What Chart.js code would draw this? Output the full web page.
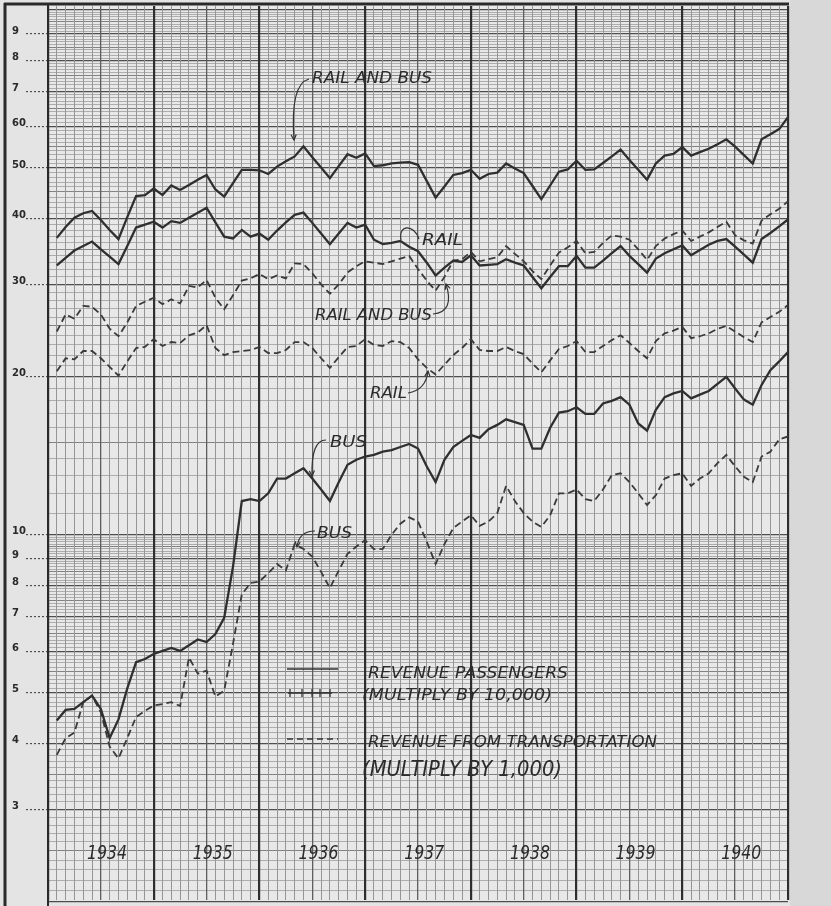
<!DOCTYPE html>
<html><head><meta charset="utf-8">
<script src="https://cdn.jsdelivr.net/npm/chart.js@4.4.0/dist/chart.umd.min.js"></script>
<style>html,body{margin:0;padding:0;background:#e3e3e3;}canvas{display:block;}</style>
</head><body>
<canvas id="c" width="831" height="906"></canvas>
<script>
// ---- categories ----
const years = ['1934','1935','1936','1937','1938','1939','1940'];
const monthsPerYear = 12;

// ---- series (monthly, Jan 1934 .. Dec 1940) ----
// Revenue passengers (multiply by 10,000)
const railAndBusPassengers = [36.8,38.6,40.2,41.0,41.4,39.8,38.1,36.6,40.3,44.2,
  44.4,45.7,44.4,46.3,45.4,46.4,47.5,48.5,45.5,44.1,
  46.8,49.6,49.6,49.5,48.7,50.3,51.5,52.6,55.0,52.4,
  50.1,47.8,50.4,53.1,52.3,53.3,50.4,50.6,51.0,51.2,
  51.3,50.7,47.2,43.9,46.1,48.5,48.9,49.6,47.7,48.7,
  49.0,51.0,49.9,48.9,46.2,43.6,46.3,49.2,49.7,51.6,
  49.6,49.7,51.1,52.6,54.2,51.8,49.6,47.5,51.0,52.8,
  53.2,54.8,52.8,53.6,54.4,55.5,56.7,54.9,52.9,51.0,
  56.7,58.0,59.3,62.5];
const railPassengers = [32.6,33.7,34.8,35.5,36.2,35.0,33.9,32.8,35.5,38.5,
  39.0,39.5,38.5,39.6,39.3,40.2,41.1,42.0,39.4,37.0,
  36.7,38.1,37.0,37.5,36.5,38.0,39.4,40.7,41.1,39.3,
  37.5,35.8,37.5,39.3,38.5,39.0,36.5,35.8,36.0,36.3,
  35.4,34.7,33.0,31.2,32.3,33.3,33.1,34.1,32.6,32.7,
  32.8,33.5,33.0,32.6,31.0,29.5,31.0,32.5,32.5,34.0,
  32.3,32.3,33.3,34.4,35.5,34.0,32.8,31.6,33.6,34.4,
  35.0,35.6,34.1,34.9,35.7,36.3,36.6,35.4,34.2,33.0,
  36.6,37.6,38.7,39.9];
const busPassengers = [4.43,4.64,4.66,4.80,4.94,4.66,4.10,4.45,5.10,5.72,
  5.80,5.93,6.01,6.09,6.01,6.16,6.32,6.25,6.47,6.95,
  8.70,11.6,11.7,11.6,12.0,12.8,12.8,13.1,13.4,12.8,
  12.2,11.6,12.6,13.6,13.9,14.1,14.2,14.4,14.5,14.7,
  14.9,14.6,13.5,12.6,13.9,14.7,15.1,15.5,15.3,15.9,
  16.2,16.6,16.4,16.2,14.6,14.6,16.0,17.1,17.2,17.5,
  17.0,17.0,17.8,18.0,18.3,17.7,16.3,15.8,17.3,18.3,
  18.6,18.8,18.2,18.5,18.8,19.4,20.0,19.0,18.1,17.7,
  19.3,20.6,21.4,22.3];
// Revenue from transportation (multiply by 1,000)
const railAndBusRevenue = [24.4,26.3,25.8,27.3,27.2,26.3,24.7,23.9,25.4,27.3,
  27.8,28.3,27.5,28.1,27.6,29.8,29.6,30.6,28.3,26.9,
  28.6,30.5,30.8,31.4,30.7,31.2,30.8,32.9,32.8,31.5,
  30.0,28.8,30.0,31.6,32.5,33.2,33.0,32.8,33.2,33.6,
  34.0,32.1,30.5,29.2,31.0,33.3,33.5,34.6,33.2,33.5,
  33.8,35.5,34.3,33.2,31.8,30.7,32.6,34.5,35.3,36.3,
  34.4,34.6,36.0,37.2,37.0,36.5,35.0,33.4,35.5,36.7,
  37.4,38.0,36.3,37.0,37.7,38.6,39.5,37.2,36.4,35.9,
  39.7,40.8,41.8,43.2];
const railRevenue = [20.5,21.7,21.6,22.4,22.4,21.7,20.9,20.1,21.4,22.7,
  22.8,23.6,22.9,23.3,23.2,24.0,24.3,25.1,22.7,22.0,
  22.3,22.4,22.5,22.8,22.2,22.2,22.5,23.3,23.3,22.7,
  21.7,20.8,21.8,22.8,22.9,23.6,23.0,22.9,23.4,23.3,
  22.7,21.6,20.8,20.2,21.1,22.0,22.7,23.6,22.5,22.4,
  22.4,22.8,22.4,22.1,21.2,20.4,21.5,22.6,22.9,23.4,
  22.3,22.3,22.9,23.5,24.0,23.2,22.4,21.7,23.4,24.2,
  24.5,24.9,23.7,23.9,24.2,24.7,25.0,24.4,23.8,23.3,
  25.4,26.0,26.6,27.4];
const busRevenue = [3.81,4.10,4.20,4.80,4.94,4.59,3.95,3.75,4.10,4.50,
  4.62,4.73,4.76,4.80,4.72,5.84,5.44,5.51,4.92,5.05,
  6.20,7.70,8.10,8.15,8.45,8.80,8.55,9.60,9.40,9.09,
  8.50,7.92,8.55,9.20,9.50,9.77,9.39,9.40,10.0,10.5,
  10.8,10.6,9.70,8.80,9.60,10.3,10.6,10.9,10.4,10.6,
  11.0,12.4,11.6,11.0,10.6,10.35,10.9,12.0,12.0,12.2,
  11.7,11.6,12.2,13.0,13.1,12.6,12.0,11.4,11.9,12.8,
  13.0,13.1,12.4,12.8,13.1,13.7,14.2,13.5,12.9,12.6,
  14.1,14.4,15.2,15.4];

// ---- tick labels ----
const yLabelValues = [3,4,5,6,7,8,9,10,20,30,40,50,60,70,80,90];
const yLabelTexts  = ['3','4','5','6','7','8','9','10','20','30','40','50','60','7','8','9'];

// ---- build ----
const nMonths = years.length * monthsPerYear;
const toPoints = arr => arr.map((v, i) => ({x: i + 1, y: v}));
const labelMap = new Map(yLabelValues.map((v, i) => [v, yLabelTexts[i]]));

// graph-paper rulings (log paper: 0.1 steps in lower cycle, 1 steps in upper cycle)
const gridVals = [];
for (let k = 20; k < 100; k++) gridVals.push(k / 10);
for (let k = 10; k <= 100; k++) gridVals.push(k);

const yMin = Math.pow(10, 1 - (906 - 538) / 529);
const yMax = Math.pow(10, 2 + 4 / 529);

function ds(label, data, dashed) {
  return {
    label, data: toPoints(data),
    borderColor: dashed ? '#3a3a3a' : '#2f2f2f',
    borderWidth: dashed ? 1.8 : 2.3,
    borderDash: dashed ? [7, 4] : [],
    pointRadius: 0, tension: 0, fill: false
  };
}

function fitText(ctx, text, x, base, width, capH) {
  const size = capH / 0.73;
  ctx.font = `italic ${size}px "DejaVu Sans"`;
  const w = ctx.measureText(text).width;
  ctx.save();
  ctx.translate(x, base);
  ctx.scale(width / w, 1);
  ctx.textAlign = 'left';
  ctx.textBaseline = 'alphabetic';
  ctx.fillText(text, 0, 0);
  ctx.restore();
}
function leader(ctx, x0, y0, cx, cy, x1, y1) {
  ctx.beginPath();
  ctx.moveTo(x0, y0);
  ctx.quadraticCurveTo(cx, cy, x1, y1);
  ctx.stroke();
  const ang = Math.atan2(y1 - cy, x1 - cx);
  const L = 6;
  ctx.beginPath();
  ctx.moveTo(x1 - L * Math.cos(ang - 0.45), y1 - L * Math.sin(ang - 0.45));
  ctx.lineTo(x1, y1);
  ctx.lineTo(x1 - L * Math.cos(ang + 0.45), y1 - L * Math.sin(ang + 0.45));
  ctx.stroke();
}

const paper = {
  id: 'paper',
  beforeDraw(chart) {
    const {ctx, chartArea: a} = chart;
    ctx.save();
    ctx.fillStyle = '#e4e4e4';
    ctx.fillRect(0, 0, chart.width, chart.height);
    ctx.fillStyle = '#e8e8e8';
    ctx.fillRect(a.left, a.top, a.right - a.left, a.bottom - a.top);
    ctx.fillStyle = '#d8d8d8';
    ctx.fillRect(a.right + 2, 0, chart.width - a.right - 2, chart.height);
    ctx.restore();
  },
  afterDraw(chart) {
    const {ctx, chartArea: a, scales} = chart;
    const xs = scales.x;
    ctx.save();
    ctx.strokeStyle = '#2a2a2a';
    ctx.lineWidth = 3;
    ctx.beginPath(); ctx.moveTo(5, 3); ctx.lineTo(5, chart.height); ctx.stroke();
    ctx.beginPath(); ctx.moveTo(4, 4); ctx.lineTo(a.right + 1, 4); ctx.stroke();
    ctx.lineWidth = 2;
    ctx.beginPath(); ctx.moveTo(a.left, 4); ctx.lineTo(a.left, chart.height); ctx.stroke();

    ctx.fillStyle = '#2b2b2b';
    ctx.strokeStyle = '#333';
    ctx.lineWidth = 1.2;
    // year labels
    years.forEach((y, i) => {
      const cx = xs.getPixelForValue(i * 12 + 6.7);
      fitText(ctx, y, cx - 20, 859, 40, 14);
    });
    // series annotations
    fitText(ctx, 'RAIL AND BUS', 312, 83, 120, 11);
    leader(ctx, 309, 79, 290, 84, 294, 140);
    fitText(ctx, 'RAIL', 422, 245, 41, 12);
    ctx.beginPath(); ctx.moveTo(401, 240); ctx.bezierCurveTo(398, 224, 414, 224, 419, 239); ctx.stroke();
    fitText(ctx, 'RAIL AND BUS', 315, 320, 117, 12);
    leader(ctx, 433, 314, 455, 312, 446, 284);
    fitText(ctx, 'RAIL', 370, 398, 37, 11);
    leader(ctx, 408, 393, 426, 390, 428, 371);
    fitText(ctx, 'BUS', 330, 447, 37, 12);
    leader(ctx, 326, 440, 311, 440, 312, 476);
    fitText(ctx, 'BUS', 317, 538, 35, 11);
    leader(ctx, 315, 531, 299, 531, 297, 547);

    // legend
    ctx.lineWidth = 1.3;
    ctx.beginPath(); ctx.moveTo(287, 669); ctx.lineTo(338, 669); ctx.stroke();
    ctx.beginPath(); ctx.moveTo(288, 693); ctx.lineTo(332, 693); ctx.stroke();
    [290, 302, 312, 320, 330].forEach(x => {
      ctx.beginPath(); ctx.moveTo(x, 689); ctx.lineTo(x, 697); ctx.stroke();
    });
    ctx.setLineDash([6, 4]);
    ctx.beginPath(); ctx.moveTo(287, 739); ctx.lineTo(338, 739); ctx.stroke();
    ctx.setLineDash([]);
    fitText(ctx, 'REVENUE PASSENGERS', 368, 678, 200, 12);
    fitText(ctx, '(MULTIPLY BY 10,000)', 362, 700, 190, 12);
    fitText(ctx, 'REVENUE FROM TRANSPORTATION', 368, 747, 289, 12);
    fitText(ctx, '(MULTIPLY BY 1,000)', 362, 776, 200, 15);
    ctx.restore();
  }
};

new Chart(document.getElementById('c').getContext('2d'), {
  type: 'line',
  data: {
    datasets: [
      ds('Rail and Bus - Revenue passengers', railAndBusPassengers, false),
      ds('Rail - Revenue passengers', railPassengers, false),
      ds('Bus - Revenue passengers', busPassengers, false),
      ds('Rail and Bus - Revenue from transportation', railAndBusRevenue, true),
      ds('Rail - Revenue from transportation', railRevenue, true),
      ds('Bus - Revenue from transportation', busRevenue, true)
    ]
  },
  options: {
    responsive: false,
    animation: false,
    layout: {padding: {left: 12, right: 43, top: 5, bottom: 0}},
    plugins: {legend: {display: false}, tooltip: {enabled: false}},
    scales: {
      x: {
        type: 'linear', min: 0, max: nMonths, bounds: 'data',
        afterBuildTicks: s => { s.ticks = Array.from({length: nMonths + 1}, (_, i) => ({value: i})); },
        afterFit: s => { s.height = 0; },
        ticks: {display: false},
        border: {display: false},
        grid: {
          z: 0,
          drawTicks: false,
          color: c => { const v = c.tick.value; return v % 12 === 0 ? '#2e2e2e' : (v % 6 === 0 ? '#5e5e5e' : '#959595'); },
          lineWidth: c => { const v = c.tick.value; return v % 12 === 0 ? 2.2 : (v % 6 === 0 ? 1.3 : 1); }
        }
      },
      y: {
        type: 'logarithmic', min: yMin, max: yMax, bounds: 'data',
        afterBuildTicks: s => { s.ticks = gridVals.map(v => ({value: v})); },
        afterFit: s => { s.width = 36; },
        border: {display: false},
        ticks: {
          autoSkip: false, crossAlign: 'far', labelOffset: -3, padding: 0,
          color: '#2a2a2a', font: {family: 'DejaVu Sans', size: 10, weight: 'bold'},
          callback: v => labelMap.get(Math.round(v * 10) / 10) || ''
        },
        grid: {
          z: -1,
          drawTicks: true, tickLength: 22, tickWidth: 1, tickBorderDash: [2, 2],
          tickColor: c => labelMap.has(Math.round(c.tick.value * 10) / 10) ? '#333' : 'rgba(0,0,0,0)',
          color: c => {
            const v = Math.round(c.tick.value * 10) / 10;
            const lower = v < 10;
            const major = lower ? Number.isInteger(v) : v % 10 === 0;
            const mid = lower ? Math.abs(v * 2 - Math.round(v * 2)) < 1e-6 : v % 5 === 0;
            return major ? '#4e4e4e' : (mid ? '#838383' : '#adadad');
          },
          lineWidth: c => {
            const v = Math.round(c.tick.value * 10) / 10;
            const major = v < 10 ? Number.isInteger(v) : v % 10 === 0;
            return major ? 1.3 : 1;
          }
        }
      }
    }
  },
  plugins: [paper]
});
</script>
</body></html>
